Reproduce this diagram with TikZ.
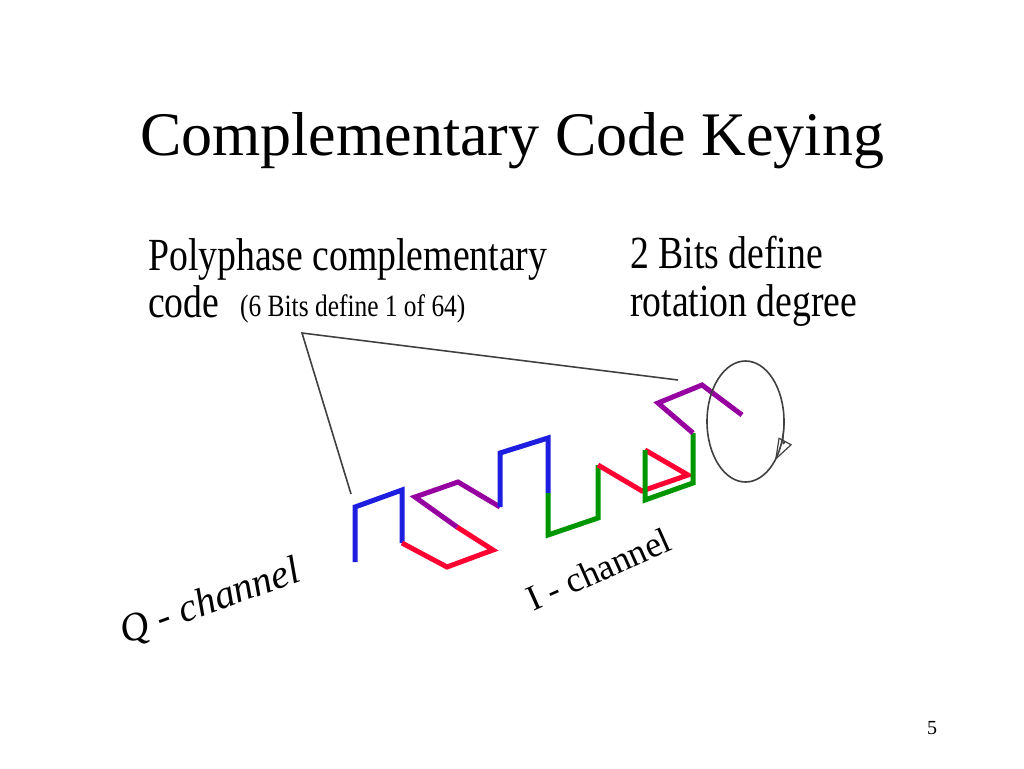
\documentclass[tikz,border=0pt]{standalone}
\usepackage{fontspec}
\setmainfont{Liberation Serif}
\newfontfamily\narrowfont[FakeStretch=0.82]{Liberation Serif}
\usetikzlibrary{arrows.meta}
\definecolor{qblue}{RGB}{30,30,225}
\definecolor{ired}{RGB}{255,0,51}
\definecolor{ppurple}{RGB}{150,0,160}
\definecolor{igreen}{RGB}{0,150,0}
\begin{document}
\begin{tikzpicture}[x=1pt,y=-1pt,
    wave/.style={line width=5pt,line join=miter},
    leader/.style={line width=1.6pt,black!75},
    lbl/.style={inner sep=0pt,anchor=base west,font=\narrowfont\fontsize{46}{50}\selectfont}]
  \useasboundingbox (0,0) rectangle (1024,768);
  \node[inner sep=0pt,anchor=base,font=\fontsize{62}{70}\selectfont] (title) at (512,155) {Complementary Code Keying};
  % labels
  \node[lbl] (polyA) at (148,270) {Polyphase complementary};
  \node[lbl] (polyB) at (148,317) {code};
  \node[lbl,font=\narrowfont\fontsize{31}{34}\selectfont] (bits6) at (240,316) {(6 Bits define 1 of 64)};
  \node[lbl] (bitsA) at (630,268) {2 Bits define};
  \node[lbl] (bitsB) at (630,316) {rotation degree};
  % chip waveform
  \draw[wave,qblue] (355,562) -- (355,507) -- (402,490) -- (402,543);
  \draw[wave,ired] (402,543) -- (447,567) -- (493,550) -- (457,527);
  \draw[wave,ppurple] (457,527) -- (415,497) -- (458,482) -- (500,507);
  \draw[wave,qblue] (500,507) -- (500,453) -- (548,438) -- (548,493);
  \draw[wave,igreen] (548,493) -- (548,535) -- (598,518) -- (598,465);
  \draw[wave,ired] (598,465) -- (642,491) -- (688,475) -- (645,450);
  \draw[wave,igreen] (645,450) -- (645,500) -- (693,483) -- (693,433);
  \draw[wave,ppurple] (693,433) -- (658,403) -- (702,385) -- (742,415);
  % leader lines
  \coordinate (lead) at (302,333);
  \coordinate (qstart) at (351,494);
  \coordinate (pend) at (678,380);
  \draw[leader] (qstart) -- (lead) -- (pend);
  % rotation
  \coordinate (rot) at (745.5,421.5);
  \draw[leader] (rot) ellipse [x radius=38.5,y radius=60.5];
  \draw[leader,line width=1.2pt,-{Triangle[open,length=22pt,width=15pt]}] (rot) ++(0:38.5 and 60.5)
    arc[start angle=0,end angle=40,x radius=38.5,y radius=60.5];
  % channels
  \node[inner sep=0pt,anchor=base west,rotate=20,font=\itshape\fontsize{40}{44}\selectfont] (qch) at (125,645) {Q - channel};
  \node[inner sep=0pt,anchor=base west,rotate=24,font=\fontsize{36}{40}\selectfont] (ich) at (533,612) {I - channel};
  \node[inner sep=0pt,anchor=base,font=\fontsize{20}{24}\selectfont] (page) at (932,734) {5};
\end{tikzpicture}
\end{document}
